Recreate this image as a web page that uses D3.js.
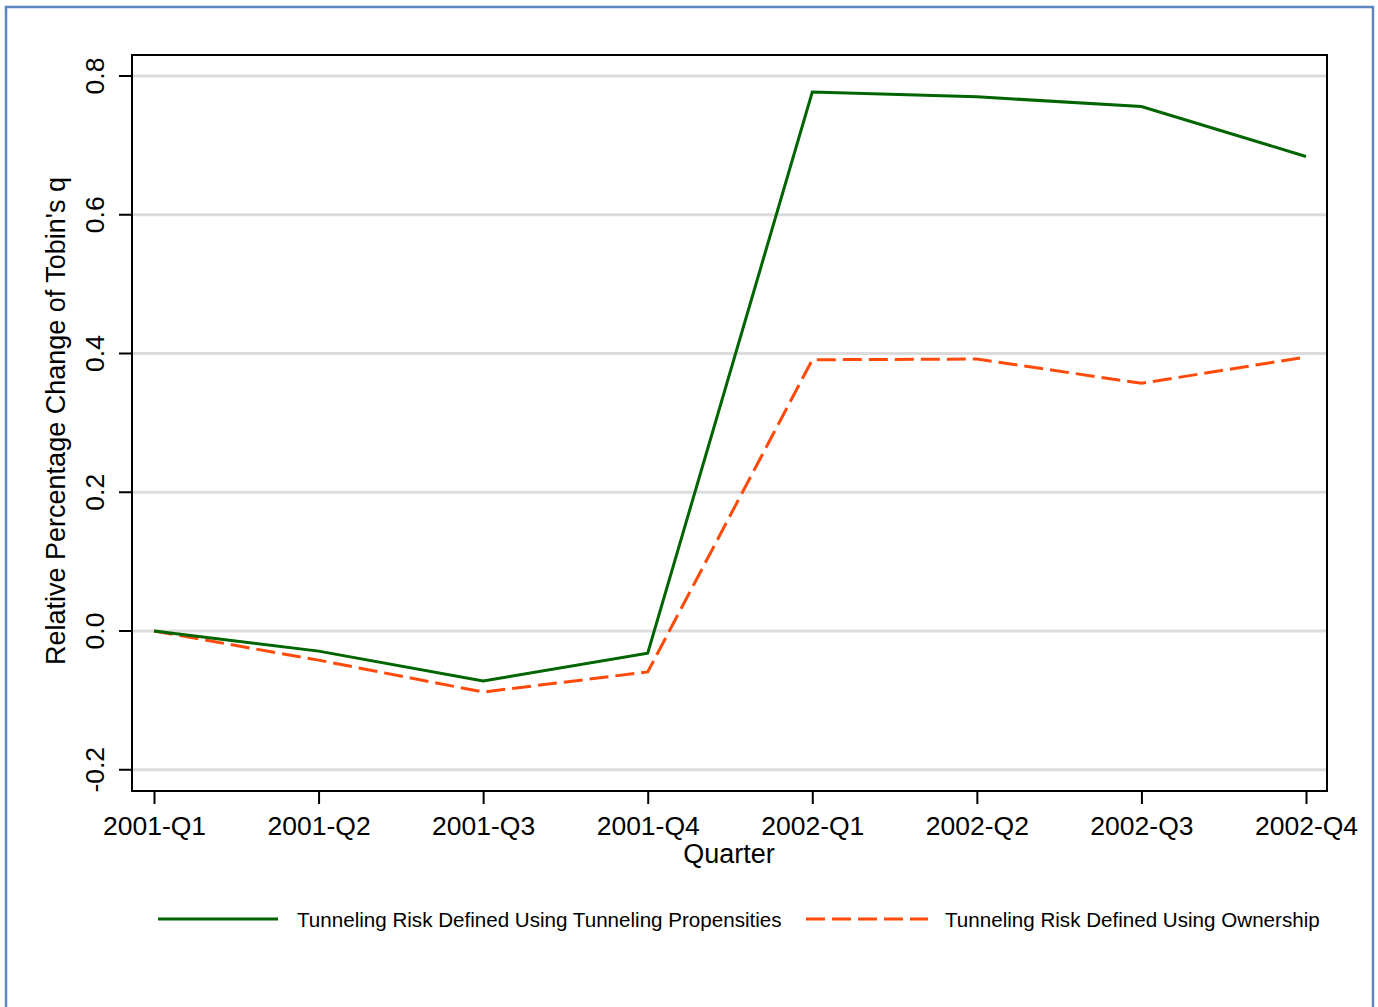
<!DOCTYPE html>
<html>
<head>
<meta charset="utf-8">
<script src="https://cdn.jsdelivr.net/npm/d3@7"></script>
<style>
  body { margin: 0; background: #fff; }
  text { font-family: "Liberation Sans", Arial, sans-serif; fill: #000; }
</style>
</head>
<body>
<script>
// data
var quarters = ["2001-Q1", "2001-Q2", "2001-Q3", "2001-Q4", "2002-Q1", "2002-Q2", "2002-Q3", "2002-Q4"];
var propensity = [0, -0.029, -0.072, -0.032, 0.777, 0.770, 0.756, 0.684];
var ownership = [0, -0.042, -0.088, -0.059, 0.391, 0.392, 0.357, 0.395];
var yTicks = [-0.2, 0, 0.2, 0.4, 0.6, 0.8];
var seriesNames = ["Tunneling Risk Defined Using Tunneling Propensities", "Tunneling Risk Defined Using Ownership"];

var W = 1378, H = 1007;
var frame = {left: 132, top: 55, right: 1327, bottom: 791};

var svg = d3.select("body").append("svg")
  .attr("width", W)
  .attr("height", H);

// outer blue border
svg.append("rect")
  .attr("x", 6).attr("y", 7)
  .attr("width", 1367).attr("height", 1010)
  .attr("fill", "none")
  .attr("stroke", "#5b86c2")
  .attr("stroke-width", 2.5);

var x = d3.scalePoint().domain(quarters).range([154, 1306]);
var y = d3.scaleLinear().domain([0, 0.8]).range([631, 76]);

// gridlines
svg.append("g").selectAll("line")
  .data(yTicks)
  .enter().append("line")
  .attr("x1", frame.left).attr("x2", frame.right)
  .attr("y1", function(d){ return y(d); })
  .attr("y2", function(d){ return y(d); })
  .attr("stroke", "#dcdcdc")
  .attr("stroke-width", 3);

// Y axis
var yAxis = svg.append("g")
  .attr("transform", "translate(" + frame.left + ",0)")
  .call(d3.axisLeft(y).tickValues(yTicks).tickSize(13)
    .tickFormat(function(d){ return d.toFixed(1); }));
yAxis.select(".domain").remove();
yAxis.selectAll(".tick").attr("transform", null);
yAxis.selectAll(".tick line")
  .attr("stroke", "#000").attr("stroke-width", 2)
  .attr("y1", function(d){ return y(d); })
  .attr("y2", function(d){ return y(d); });
yAxis.selectAll("text")
  .attr("font-size", 26.5)
  .attr("x", 0).attr("y", 0).attr("dy", 0)
  .attr("text-anchor", "middle")
  .attr("dominant-baseline", "middle")
  .attr("transform", function(d){ return "translate(-35," + y(d) + ") rotate(-90)"; })
  .style("font-family", "'Liberation Sans', Arial, sans-serif");

// X axis
var xAxis = svg.append("g")
  .attr("transform", "translate(0," + frame.bottom + ")")
  .call(d3.axisBottom(x).tickSize(13).tickPadding(12));
xAxis.select(".domain").remove();
xAxis.selectAll("line").attr("stroke", "#000").attr("stroke-width", 2);
xAxis.selectAll("text")
  .attr("font-size", 26.5)
  .style("font-family", "'Liberation Sans', Arial, sans-serif");

// plot frame
svg.append("rect")
  .attr("x", frame.left).attr("y", frame.top)
  .attr("width", frame.right - frame.left)
  .attr("height", frame.bottom - frame.top)
  .attr("fill", "none")
  .attr("stroke", "#000")
  .attr("stroke-width", 2);

// axis titles
svg.append("text")
  .attr("transform", "translate(58,421) rotate(-90)")
  .attr("text-anchor", "middle")
  .attr("dominant-baseline", "middle")
  .attr("font-size", 27)
  .text("Relative Percentage Change of Tobin's q");

svg.append("text")
  .attr("x", 729).attr("y", 863)
  .attr("text-anchor", "middle")
  .attr("font-size", 27)
  .text("Quarter");

// lines
var lineFun = d3.line()
  .x(function(d, i){ return x(quarters[i]); })
  .y(function(d){ return y(d); });

svg.append("path")
  .datum(ownership)
  .attr("d", lineFun)
  .attr("fill", "none")
  .attr("stroke", "#ff4a0a")
  .attr("stroke-width", 3)
  .attr("stroke-dasharray", "19,7");

svg.append("path")
  .datum(propensity)
  .attr("d", lineFun)
  .attr("fill", "none")
  .attr("stroke", "#006400")
  .attr("stroke-width", 3);

// legend
var legend = svg.append("g");
legend.append("line")
  .attr("x1", 158).attr("x2", 278).attr("y1", 919).attr("y2", 919)
  .attr("stroke", "#006400").attr("stroke-width", 3);
legend.append("text")
  .attr("x", 297).attr("y", 927)
  .attr("font-size", 20.6)
  .text(seriesNames[0]);
legend.append("line")
  .attr("x1", 806).attr("x2", 928).attr("y1", 919).attr("y2", 919)
  .attr("stroke", "#ff4a0a").attr("stroke-width", 3)
  .attr("stroke-dasharray", "19,7");
legend.append("text")
  .attr("x", 945).attr("y", 927)
  .attr("font-size", 20.6)
  .text(seriesNames[1]);
</script>
</body>
</html>
